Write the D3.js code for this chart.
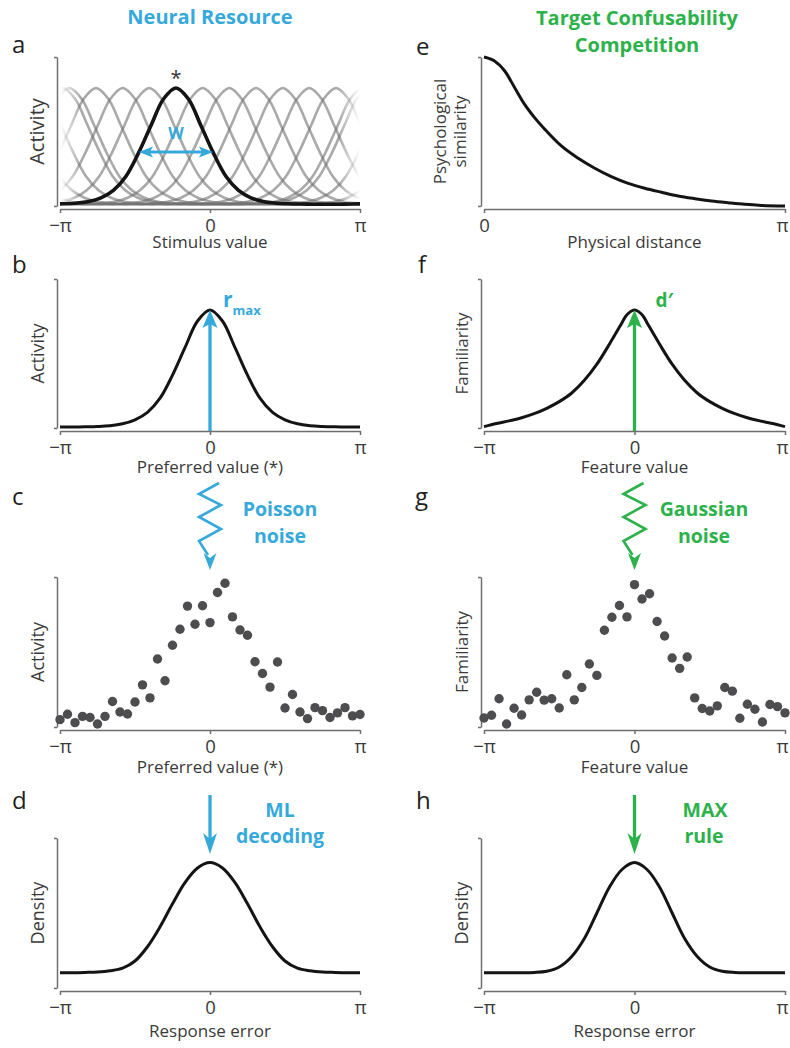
<!DOCTYPE html>
<html><head><meta charset="utf-8">
<script src="https://cdn.jsdelivr.net/npm/d3@7"></script>
<style>
body{margin:0;background:#fff}
svg{display:block}
text{font-family:"Open Sans",sans-serif}
</style>
</head><body>
<script>
// ---------------- DATA (x positions in units of π) ----------------
const xGrid = [-1,-0.917,-0.833,-0.75,-0.667,-0.583,-0.5,-0.417,-0.333,-0.25,-0.167,-0.083,0,0.083,0.167,0.25,0.333,0.417,0.5,0.583,0.667,0.75,0.833,0.917,1];
// a: tuning curve shape (offset from preferred value -> activity)
const tuningActivity = [0.012,0.012,0.013,0.015,0.019,0.030,0.055,0.105,0.200,0.355,0.539,0.718,0.792,0.718,0.539,0.355,0.200,0.105,0.055,0.030,0.019,0.015,0.013,0.012,0.012];
const preferredValues = [-0.938,-0.76,-0.582,-0.405,-0.227,-0.049,0.129,0.307,0.485,0.662,0.84,1.018];
const highlightedNeuron = -0.227;
// b: population response
const popActivity = [0.007,0.007,0.008,0.010,0.015,0.028,0.055,0.105,0.200,0.355,0.539,0.718,0.792,0.718,0.539,0.355,0.200,0.105,0.055,0.028,0.015,0.010,0.008,0.007,0.007];
// c / g: noisy samples
const dotX = [-1,-0.95,-0.9,-0.85,-0.8,-0.75,-0.7,-0.65,-0.6,-0.55,-0.5,-0.45,-0.4,-0.35,-0.3,-0.25,-0.2,-0.15,-0.1,-0.05,0,0.05,0.1,0.15,0.2,0.25,0.3,0.35,0.4,0.45,0.5,0.55,0.6,0.65,0.7,0.75,0.8,0.85,0.9,0.95,1];
const cActivity = [0.049,0.085,0.029,0.071,0.063,0.020,0.071,0.170,0.100,0.087,0.167,0.281,0.194,0.453,0.308,0.545,0.652,0.806,0.685,0.808,0.696,0.897,0.958,0.734,0.647,0.612,0.435,0.357,0.266,0.433,0.127,0.217,0.100,0.056,0.129,0.109,0.063,0.094,0.129,0.074,0.083];
const gFamiliarity = [0.060,0.078,0.188,0.020,0.125,0.080,0.181,0.232,0.179,0.188,0.127,0.348,0.181,0.263,0.420,0.344,0.645,0.732,0.810,0.734,0.949,0.853,0.888,0.703,0.607,0.460,0.391,0.467,0.194,0.123,0.107,0.141,0.263,0.239,0.058,0.152,0.118,0.033,0.150,0.136,0.094];
// d: ML decoding error density
const dDensity = [0.102,0.102,0.104,0.107,0.115,0.132,0.180,0.275,0.408,0.561,0.703,0.800,0.836,0.800,0.703,0.561,0.408,0.275,0.180,0.132,0.115,0.107,0.104,0.102,0.102];
// e: psychological similarity vs physical distance
const eDistance = [0,0.035,0.069,0.102,0.135,0.168,0.202,0.257,0.313,0.368,0.423,0.479,0.534,0.590,0.645,0.701,0.756,0.811,0.867,0.922,1];
const eSimilarity = [1.0,0.973,0.906,0.794,0.682,0.593,0.515,0.403,0.320,0.253,0.197,0.152,0.119,0.092,0.067,0.049,0.034,0.022,0.011,0.004,0.0];
// f: familiarity
const fX = [-1,-0.917,-0.833,-0.75,-0.667,-0.583,-0.5,-0.417,-0.333,-0.25,-0.167,-0.083,-0.06,-0.027,0,0.027,0.06,0.083,0.167,0.25,0.333,0.417,0.5,0.583,0.667,0.75,0.833,0.917,1];
const fFamiliarity = [0.009,0.030,0.048,0.069,0.096,0.132,0.177,0.235,0.320,0.428,0.562,0.707,0.747,0.781,0.792,0.781,0.747,0.707,0.562,0.428,0.320,0.235,0.177,0.132,0.096,0.069,0.048,0.030,0.009];
// h: MAX rule error density
const hDensity = [0.102,0.102,0.102,0.102,0.104,0.112,0.140,0.210,0.330,0.500,0.672,0.790,0.836,0.790,0.672,0.500,0.330,0.210,0.140,0.112,0.104,0.102,0.102,0.102,0.102];
const tickCirc = [-1,0,1], tickCircLabels = ["\u2212\u03c0","0","\u03c0"];
const tickHalf = [0,1], tickHalfLabels = ["0","\u03c0"];

// ---------------- STYLE ----------------
const BLUE = "#36a9db", GREEN = "#2db24b", AXIS = "#6d6e71", INK = "#231f20", DOT = "#4d4d4f";
const W = 790, H = 1048;
const svg = d3.select("body").append("svg").attr("width", W).attr("height", H);
const defs = svg.append("defs");

const cols = [{left:60,right:360,cx:210,ylab:44},{left:484,right:785,cx:634.5,ylab:468}];
const rows = [{top:57,bottom:206},{top:279,bottom:428},{top:577,bottom:727},{top:838,bottom:988}];

function makePanel(col, row, domain, ticks, labels, xLabel, xLabelDy) {
  const c = cols[col], r = rows[row];
  const x = d3.scaleLinear().domain(domain).range([c.left, c.right]);
  const y = d3.scaleLinear().domain([0, 1]).range([r.bottom, r.top]);
  const ga = svg.append("g").attr("transform", `translate(${c.left - 3},0)`)
    .call(d3.axisLeft(y).tickValues([0, 1]).tickSize(3).tickSizeOuter(0).tickFormat(""));
  const gx = svg.append("g").attr("transform", `translate(0,${r.bottom + 3})`)
    .call(d3.axisBottom(x).tickValues(ticks).tickSize(4).tickSizeOuter(0).tickPadding(6)
      .tickFormat((d, i) => labels[i]));
  [ga, gx].forEach(g => {
    g.select(".domain").attr("stroke", AXIS).attr("stroke-width", 1.5);
    g.selectAll(".tick line").attr("stroke", AXIS).attr("stroke-width", 1.5);
  });
  gx.selectAll(".tick text").attr("fill", "#3a3a3a").attr("font-size", 18.5)
    .attr("font-family", (d) => d === 0 ? "'Open Sans',sans-serif" : "'Liberation Serif','DejaVu Serif',serif")
    .attr("dx", (d) => (col === 1 && d === 1) ? -3 : 0);
  svg.append("text").attr("x", c.cx).attr("y", r.bottom + xLabelDy).attr("text-anchor", "middle")
    .attr("font-size", 17).attr("fill", "#3a3a3a").text(xLabel);
  return {x, y, c, r};
}
function yLabel(p, lines, size, xs) {
  const cy = (p.r.top + p.r.bottom) / 2;
  lines.forEach((t, i) => {
    svg.append("text").attr("transform", `translate(${xs[i]},${cy}) rotate(-90)`)
      .attr("text-anchor", "middle").attr("font-size", size).attr("fill", "#3a3a3a").text(t);
  });
}
function letter(t, x, y) {
  svg.append("text").attr("x", x).attr("y", y).attr("font-size", 24).attr("fill", INK).text(t);
}
// arrowhead pointing in direction (dx,dy) with tip at (tx,ty)
function head(tx, ty, dx, dy, len, half, notch, color) {
  const px = -dy, py = dx;
  const bx = tx - dx * len, by = ty - dy * len;
  const nx = tx - dx * notch, ny = ty - dy * notch;
  svg.append("path").attr("d",
    `M${tx},${ty}L${bx + px * half},${by + py * half}L${nx},${ny}L${bx - px * half},${by - py * half}Z`)
    .attr("fill", color);
}
function curve(p, xs, ys, crv, sw) {
  const line = d3.line().x((d, i) => p.x(xs[i])).y(d => p.y(d)).curve(crv);
  svg.append("path").attr("d", line(ys)).attr("fill", "none").attr("stroke", "#141414")
    .attr("stroke-width", sw || 3).attr("stroke-linejoin", "round");
}

// ---------------- TITLES ----------------
svg.append("text").attr("x", 210).attr("y", 24).attr("text-anchor", "middle").attr("font-size", 20)
  .attr("font-weight", 700).attr("fill", BLUE).text("Neural Resource");
svg.append("text").attr("x", 637).attr("y", 25).attr("text-anchor", "middle").attr("font-size", 20)
  .attr("font-weight", 700).attr("fill", GREEN).text("Target Confusability");
svg.append("text").attr("x", 637).attr("y", 52).attr("text-anchor", "middle").attr("font-size", 20)
  .attr("font-weight", 700).attr("fill", GREEN).text("Competition");

// ---------------- PANEL a ----------------
const pa = makePanel(0, 0, [-1, 1], tickCirc, tickCircLabels, "Stimulus value", 42);
yLabel(pa, ["Activity"], 20, [44]);
letter("a", 12, 53);
const grad = defs.append("linearGradient").attr("id", "fadeA").attr("gradientUnits", "userSpaceOnUse")
  .attr("x1", pa.c.left).attr("x2", pa.c.right).attr("y1", 0).attr("y2", 0);
[[0, 0], [0.07, 0.6], [0.93, 0.6], [1, 0]].forEach(([o, a]) =>
  grad.append("stop").attr("offset", o).attr("stop-color", "#707070").attr("stop-opacity", a));
defs.append("clipPath").attr("id", "clipA").append("rect")
  .attr("x", pa.c.left).attr("y", pa.r.top - 10).attr("width", pa.c.right - pa.c.left).attr("height", pa.r.bottom - pa.r.top + 12);
const gGray = svg.append("g").attr("clip-path", "url(#clipA)");
const tuneLine = (center) => d3.line().x((d, i) => pa.x(center + xGrid[i])).y(d => pa.y(d)).curve(d3.curveCatmullRom.alpha(0.5));
const wraps = [-2, 0, 2];
preferredValues.forEach(cv => wraps.forEach(w => {
  gGray.append("path").attr("d", tuneLine(cv + w)(tuningActivity)).attr("fill", "none")
    .attr("stroke", "url(#fadeA)").attr("stroke-width", 2.6);
}));
const gBold = svg.append("g").attr("clip-path", "url(#clipA)");
wraps.forEach(w => gBold.append("path").attr("d", tuneLine(highlightedNeuron + w)(tuningActivity))
  .attr("fill", "none").attr("stroke", "#141414").attr("stroke-width", 3.6));
{
  const cx = pa.x(highlightedNeuron), peak = d3.max(tuningActivity);
  svg.append("text").attr("x", cx).attr("y", pa.y(peak) - 3).attr("text-anchor", "middle")
    .attr("font-size", 20).attr("fill", "#333").text("*");
  const yy = pa.y(0.362), hw = pa.x(0.247) - pa.x(0);
  svg.append("line").attr("x1", cx - hw + 8).attr("x2", cx + hw - 8).attr("y1", yy).attr("y2", yy)
    .attr("stroke", BLUE).attr("stroke-width", 3);
  head(cx - hw, yy, -1, 0, 14, 5.5, 11, BLUE);
  head(cx + hw, yy, 1, 0, 14, 5.5, 11, BLUE);
  svg.append("text").attr("x", cx).attr("y", yy - 13).attr("text-anchor", "middle").attr("font-size", 16)
    .attr("font-weight", 700).attr("fill", BLUE).text("W");
}

// ---------------- PANEL b ----------------
const pb = makePanel(0, 1, [-1, 1], tickCirc, tickCircLabels, "Preferred value (*)", 45);
yLabel(pb, ["Activity"], 18, [44]);
letter("b", 12, 273);
curve(pb, xGrid, popActivity, d3.curveCatmullRom.alpha(0.5), 3);
{
  const cx = pb.x(0), tip = pb.y(d3.max(popActivity));
  svg.append("line").attr("x1", cx).attr("x2", cx).attr("y1", pb.r.bottom + 3).attr("y2", tip + 12)
    .attr("stroke", BLUE).attr("stroke-width", 3.3);
  head(cx, tip, 0, -1, 18, 7.5, 14, BLUE);
  const t = svg.append("text").attr("x", cx + 13).attr("y", tip - 3).attr("font-weight", 700).attr("fill", BLUE);
  t.append("tspan").attr("font-size", 21).text("r");
  t.append("tspan").attr("font-size", 13).attr("dy", 8).text("max");
}

// ---------------- PANEL c ----------------
const pc = makePanel(0, 2, [-1, 1], tickCirc, tickCircLabels, "Preferred value (*)", 46);
yLabel(pc, ["Activity"], 18, [44]);
letter("c", 12, 505);
svg.append("g").selectAll("circle").data(cActivity).join("circle")
  .attr("cx", (d, i) => pc.x(dotX[i])).attr("cy", d => pc.y(d)).attr("r", 4.7).attr("fill", DOT);

function zigzag(cx, tipY, color) {
  const pts = [[9, -87], [-11, -76], [11, -65], [-11, -53], [11, -41], [-11, -29], [-2, -15]];
  svg.append("path").attr("d", d3.line()(pts.map(([dx, dy]) => [cx + dx, tipY + dy])))
    .attr("fill", "none").attr("stroke", color).attr("stroke-width", 2.6).attr("stroke-linejoin", "miter");
  head(cx, tipY, 0, 1, 17, 6.5, 12, color);
}
zigzag(pc.x(0), pc.r.top - 7, BLUE);
svg.append("text").attr("x", 280).attr("y", 516).attr("text-anchor", "middle").attr("font-size", 19.5)
  .attr("font-weight", 700).attr("fill", BLUE).text("Poisson");
svg.append("text").attr("x", 280).attr("y", 543).attr("text-anchor", "middle").attr("font-size", 19.5)
  .attr("font-weight", 700).attr("fill", BLUE).text("noise");

// ---------------- PANEL d ----------------
const pd = makePanel(0, 3, [-1, 1], tickCirc, tickCircLabels, "Response error", 49);
yLabel(pd, ["Density"], 18, [44]);
letter("d", 12, 809);
curve(pd, xGrid, dDensity, d3.curveCatmullRom.alpha(0.5), 3);
function downArrow(cx, tipY, color) {
  svg.append("line").attr("x1", cx).attr("x2", cx).attr("y1", tipY - 59).attr("y2", tipY - 12)
    .attr("stroke", color).attr("stroke-width", 3.3);
  head(cx, tipY, 0, 1, 21, 7, 15, color);
}
downArrow(pd.x(0), pd.r.top + 16, BLUE);
svg.append("text").attr("x", 280).attr("y", 817).attr("text-anchor", "middle").attr("font-size", 19.5)
  .attr("font-weight", 700).attr("fill", BLUE).text("ML");
svg.append("text").attr("x", 280).attr("y", 843).attr("text-anchor", "middle").attr("font-size", 19.5)
  .attr("font-weight", 700).attr("fill", BLUE).text("decoding");

// ---------------- PANEL e ----------------
const pe = makePanel(1, 0, [0, 1], tickHalf, tickHalfLabels, "Physical distance", 42);
yLabel(pe, ["Psychological", "similarity"], 17, [446, 466]);
letter("e", 416, 55);
curve(pe, eDistance, eSimilarity, d3.curveMonotoneX, 3);

// ---------------- PANEL f ----------------
const pf = makePanel(1, 1, [-1, 1], tickCirc, tickCircLabels, "Feature value", 45);
yLabel(pf, ["Familiarity"], 17, [468]);
letter("f", 418, 273);
curve(pf, fX, fFamiliarity, d3.curveMonotoneX, 3);
{
  const cx = pf.x(0), tip = pf.y(d3.max(fFamiliarity));
  svg.append("line").attr("x1", cx).attr("x2", cx).attr("y1", pf.r.bottom + 3).attr("y2", tip + 12)
    .attr("stroke", GREEN).attr("stroke-width", 3.3);
  head(cx, tip, 0, -1, 18, 7.5, 14, GREEN);
  svg.append("text").attr("x", cx + 21).attr("y", tip - 3).attr("font-size", 19).attr("font-weight", 700)
    .attr("fill", GREEN).text("d\u2032");
}

// ---------------- PANEL g ----------------
const pg = makePanel(1, 2, [-1, 1], tickCirc, tickCircLabels, "Feature value", 46);
yLabel(pg, ["Familiarity"], 17, [468]);
letter("g", 415, 505);
svg.append("g").selectAll("circle").data(gFamiliarity).join("circle")
  .attr("cx", (d, i) => pg.x(dotX[i])).attr("cy", d => pg.y(d)).attr("r", 4.7).attr("fill", DOT);
zigzag(pg.x(0), pg.r.top - 7, GREEN);
svg.append("text").attr("x", 704).attr("y", 516).attr("text-anchor", "middle").attr("font-size", 19.5)
  .attr("font-weight", 700).attr("fill", GREEN).text("Gaussian");
svg.append("text").attr("x", 704).attr("y", 543).attr("text-anchor", "middle").attr("font-size", 19.5)
  .attr("font-weight", 700).attr("fill", GREEN).text("noise");

// ---------------- PANEL h ----------------
const ph = makePanel(1, 3, [-1, 1], tickCirc, tickCircLabels, "Response error", 49);
yLabel(ph, ["Density"], 18, [468]);
letter("h", 416, 809);
curve(ph, xGrid, hDensity, d3.curveCatmullRom.alpha(0.5), 3);
downArrow(ph.x(0), ph.r.top + 16, GREEN);
svg.append("text").attr("x", 705).attr("y", 817).attr("text-anchor", "middle").attr("font-size", 19.5)
  .attr("font-weight", 700).attr("fill", GREEN).text("MAX");
svg.append("text").attr("x", 704).attr("y", 843).attr("text-anchor", "middle").attr("font-size", 19.5)
  .attr("font-weight", 700).attr("fill", GREEN).text("rule");
</script>
</body></html>
